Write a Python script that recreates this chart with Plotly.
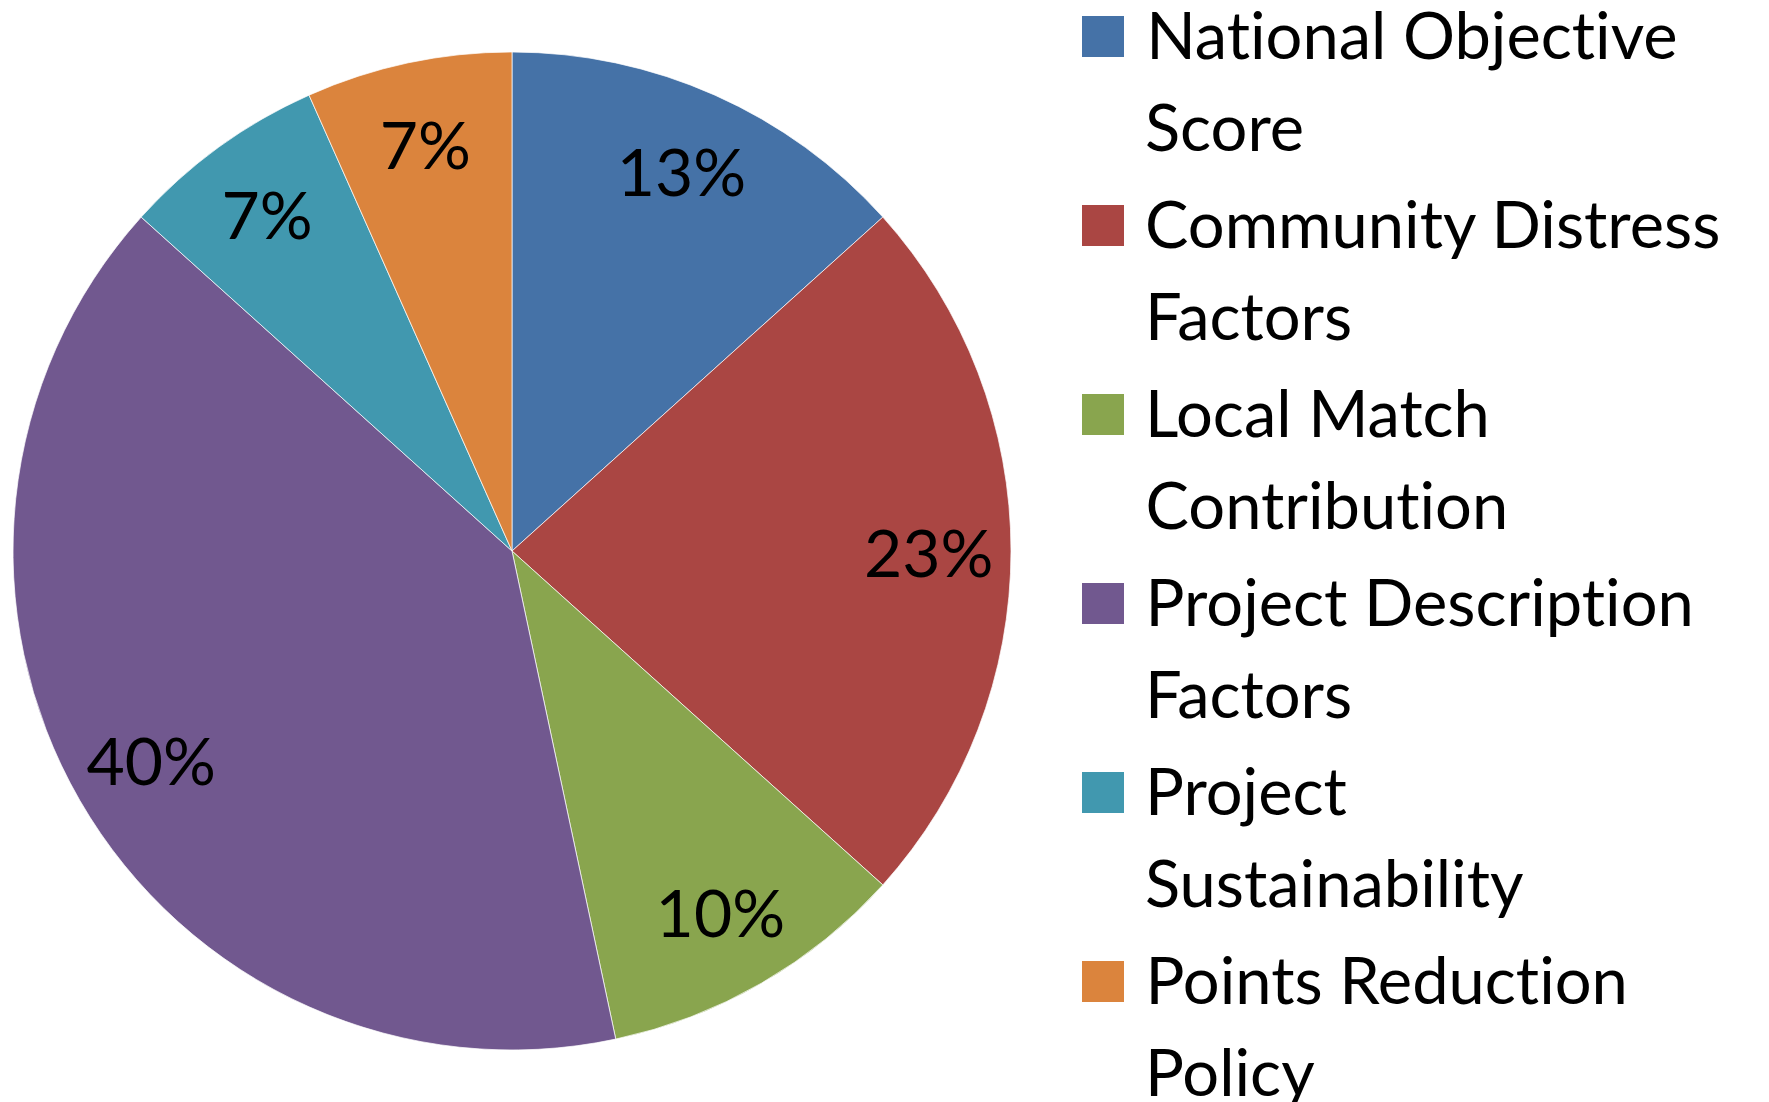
import plotly.graph_objects as go

# ---- data ----
categories = [
    "National Objective Score",
    "Community Distress Factors",
    "Local Match Contribution",
    "Project Description Factors",
    "Project Sustainability",
    "Points Reduction Policy",
]
legend_lines = [
    ["National Objective", "Score"],
    ["Community Distress", "Factors"],
    ["Local Match", "Contribution"],
    ["Project Description", "Factors"],
    ["Project", "Sustainability"],
    ["Points Reduction", "Policy"],
]
points = [20, 35, 15, 60, 10, 10]
colors = ["#4572A7", "#AA4643", "#89A54E", "#71588F", "#4198AF", "#DB843D"]

W, H = 1769, 1102
FONT = "Lato, Open Sans, sans-serif"

def px(x):
    return x / W

def py(y):
    return 1 - y / H

# pie centre at (504, 543) in figure pixels, radius 499
pie_domain = dict(x=[px(5), px(1003)], y=[py(1042), py(44)])

fig = go.Figure()
# base pie (fills)
fig.add_trace(go.Pie(
    labels=categories, values=points, sort=False, direction="clockwise",
    rotation=0, domain=pie_domain,
    marker=dict(colors=colors, line=dict(color="rgba(255,255,255,0.7)", width=1)),
    textinfo="none", hoverinfo="label+percent", showlegend=False,
))
# transparent ring carrying the percentage labels near the rim
fig.add_trace(go.Pie(
    labels=categories, values=points, sort=False, direction="clockwise",
    rotation=0, domain=pie_domain, hole=0.67,
    marker=dict(colors=["rgba(0,0,0,0)"] * len(points), line=dict(width=0)),
    texttemplate="%{percent:.0%}", textposition="inside",
    insidetextorientation="horizontal",
    textfont=dict(family=FONT, size=66, color="black"),
    hoverinfo="skip", showlegend=False,
))

# manual legend
shapes = []
annotations = []
top0 = 8
step = 189
sq = 41
line_gap = 92
fs = 65
for i, (lines, c) in enumerate(zip(legend_lines, colors)):
    top = top0 + i * step
    shapes.append(dict(type="rect", xref="paper", yref="paper",
                       x0=px(1074), x1=px(1116), y0=py(top), y1=py(top + sq),
                       fillcolor=c, line=dict(width=0)))
    baseline = top + sq
    for j, line in enumerate(lines):
        b = baseline + j * line_gap
        annotations.append(dict(
            text=line, xref="paper", yref="paper",
            x=px(1135), y=py(b - 23), xanchor="left", yanchor="middle",
            showarrow=False, font=dict(family=FONT, size=fs, color="black"),
        ))

fig.update_layout(
    width=W, height=H,
    margin=dict(l=0, r=0, t=0, b=0),
    paper_bgcolor="white", plot_bgcolor="white",
    shapes=shapes, annotations=annotations,
    showlegend=False,
)

no_ligatures = (
    "var s=document.createElement('style');"
    "s.textContent='svg text{font-variant-ligatures:none !important;"
    "font-feature-settings:\"liga\" 0, \"clig\" 0 !important;}';"
    "document.head.appendChild(s);"
)
fig.write_html("out.html", post_script=no_ligatures)
